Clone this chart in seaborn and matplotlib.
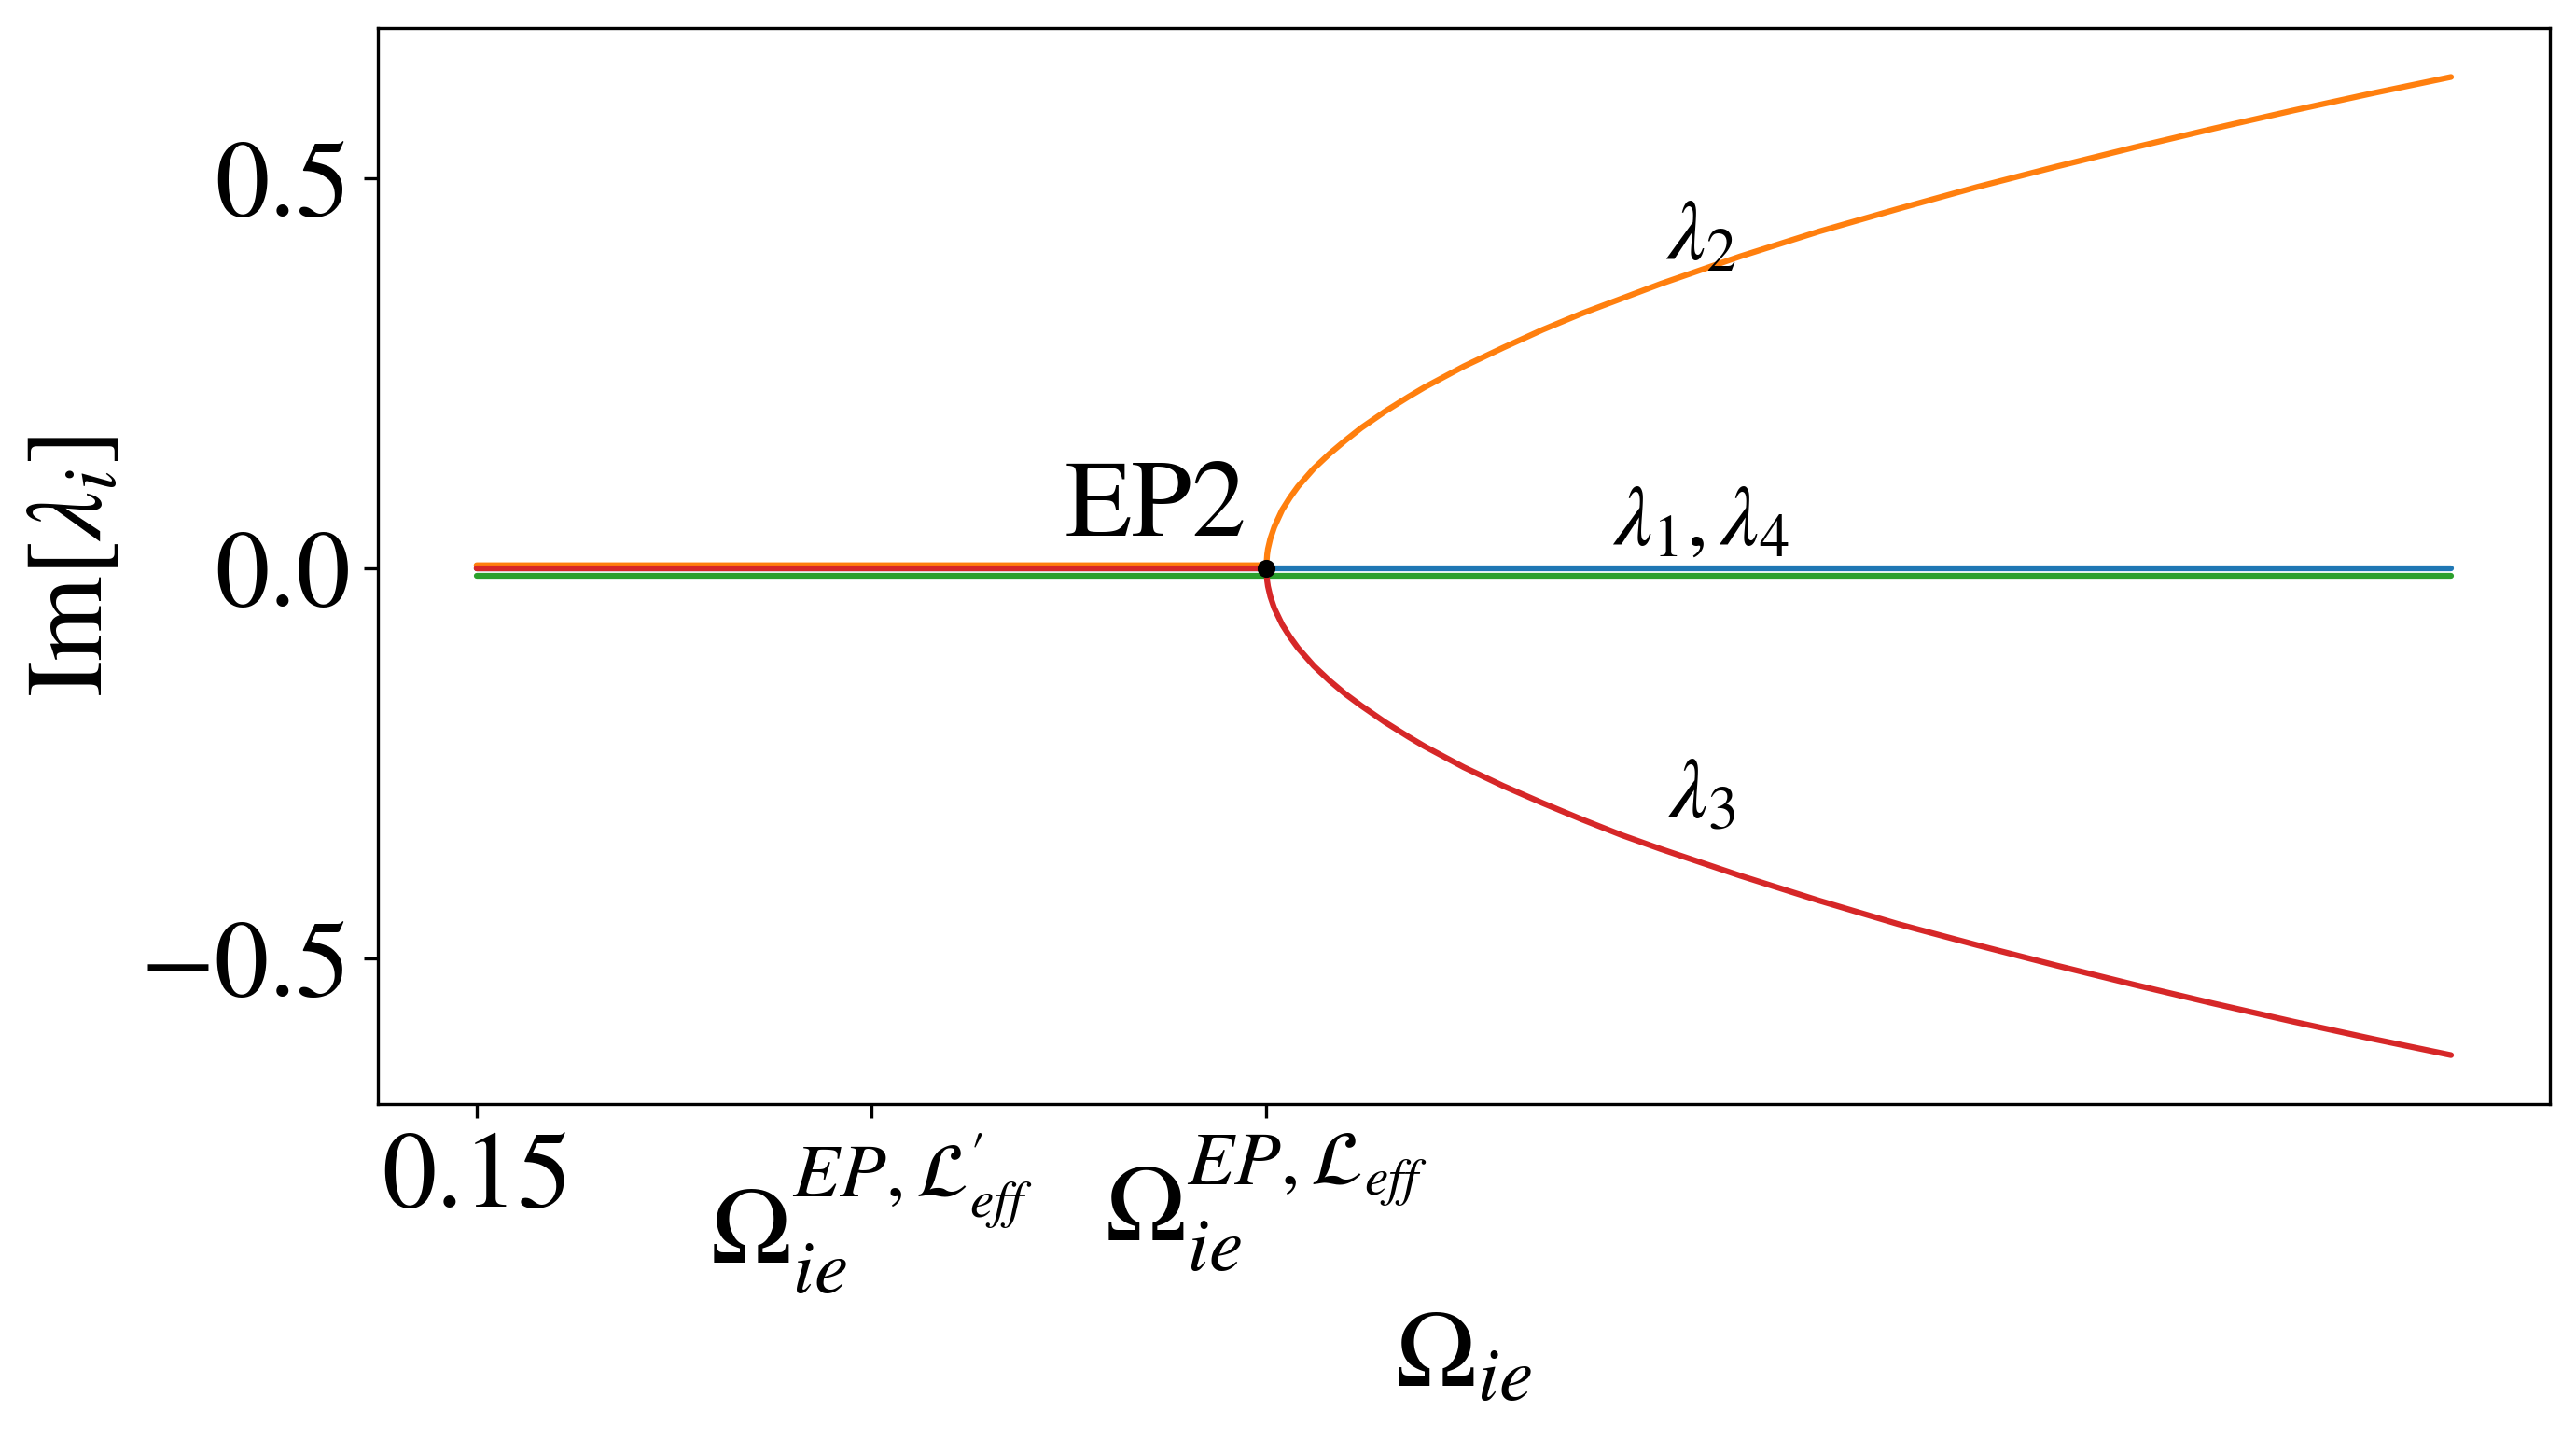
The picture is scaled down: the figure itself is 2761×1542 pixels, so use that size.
import pandas as pd
import seaborn as sns
import matplotlib.pyplot as plt

# Data
omega = [0.15, 0.20, 0.25, 0.2501, 0.2502, 0.2505, 0.251, 0.252, 0.253, 0.254,
         0.256, 0.258, 0.26, 0.262, 0.265, 0.268, 0.27, 0.275, 0.28, 0.285,
         0.29, 0.295, 0.30, 0.31, 0.32, 0.33, 0.34, 0.35, 0.36, 0.37,
         0.38, 0.39, 0.40]
im_lambda1 = [0.0] * len(omega)
im_lambda2 = [0.004, 0.004, 0.004, 0.018, 0.025, 0.038, 0.053, 0.075, 0.091, 0.105,
              0.128, 0.147, 0.164, 0.180, 0.201, 0.220, 0.232, 0.259, 0.283, 0.306,
              0.327, 0.346, 0.365, 0.400, 0.432, 0.461, 0.489, 0.515, 0.540, 0.564,
              0.587, 0.609, 0.630]
im_lambda4 = [-0.01] * len(omega)
im_lambda3 = [0.0, 0.0, 0.0, -0.016, -0.023, -0.036, -0.051, -0.072, -0.088, -0.102,
              -0.125, -0.144, -0.161, -0.176, -0.197, -0.216, -0.228, -0.255, -0.279, -0.301,
              -0.322, -0.342, -0.360, -0.394, -0.426, -0.456, -0.483, -0.509, -0.534, -0.558,
              -0.581, -0.603, -0.624]

branches = ["lambda1", "lambda2", "lambda4", "lambda3"]
colors = ["#1f77b4", "#ff7f0e", "#2ca02c", "#d62728"]

xtick_pos = [0.15, 0.20, 0.25]
xtick_labels = ["0.15",
                r"$\Omega_{ie}^{EP,\mathcal{L}^{\prime}_{eff}}$",
                r"$\Omega_{ie}^{EP,\mathcal{L}_{eff}}$"]
ytick_pos = [-0.5, 0.0, 0.5]
ep_omega, ep_im = 0.25, 0.0

# Long-form frame
df = pd.DataFrame({
    "omega": omega * 4,
    "im": im_lambda1 + im_lambda2 + im_lambda4 + im_lambda3,
    "branch": sum([[b] * len(omega) for b in branches], []),
})

sns.set_style("ticks", rc={"axes.edgecolor": "black", "xtick.color": "black",
                           "ytick.color": "black", "axes.linewidth": 0.8,
                           "text.color": "black", "axes.labelcolor": "black"})
plt.rcParams["font.family"] = ["STIXGeneral", "DejaVu Sans"]
plt.rcParams["mathtext.fontset"] = "stix"

fig = plt.figure(figsize=(2761 / 300, 1542 / 300), dpi=300)
ax = fig.add_axes([0.1467, 0.2328, 0.8431, 0.7477])

sns.lineplot(data=df, x="omega", y="im", hue="branch", hue_order=branches,
             palette=colors, estimator=None, linewidth=1.5, legend=False, ax=ax)
ax.plot(ep_omega, ep_im, "o", color="black", ms=3.6, zorder=5)

# Annotations
ax.text(ep_omega - 0.0025, ep_im + 0.012, "EP2", ha="right", va="bottom", fontsize=28)
ax.text(0.305, 0.42, r"$\lambda_2$", ha="center", va="center", fontsize=22)
ax.text(0.305, 0.055, r"$\lambda_1,\lambda_4$", ha="center", va="center", fontsize=22)
ax.text(0.305, -0.295, r"$\lambda_3$", ha="center", va="center", fontsize=22)

ax.set_xticks(xtick_pos)
ax.set_xticklabels(xtick_labels)
ax.set_yticks(ytick_pos)
ax.tick_params(labelsize=28, width=0.8, length=3.5)
ax.set_xlabel(r"$\Omega_{ie}$", fontsize=28)
ax.set_ylabel(r"$\mathrm{Im}[\lambda_i]$", fontsize=28)

fig.savefig("out.png", dpi=300)
